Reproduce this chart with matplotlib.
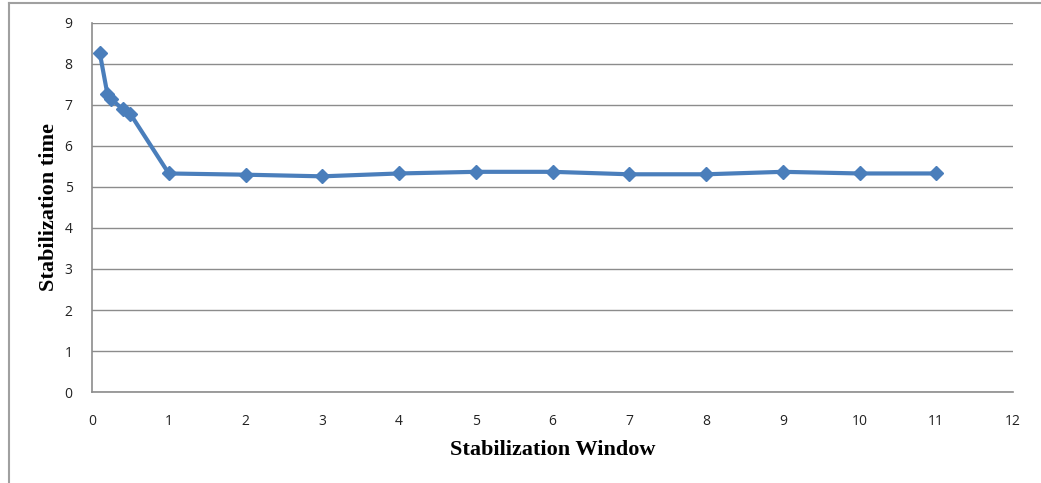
import matplotlib.pyplot as plt
from matplotlib.lines import Line2D

# stabilization window vs. time to stabilize
window = [0.1, 0.2, 0.25, 0.4, 0.5, 1, 2, 3, 4, 5, 6, 7, 8, 9, 10, 11]
stab_time = [8.28, 7.27, 7.14, 6.9, 6.78, 5.33, 5.3, 5.26, 5.33, 5.37, 5.37,
             5.31, 5.31, 5.37, 5.33, 5.33]

x_ticks = list(range(0, 13))
y_ticks = list(range(0, 10))

line_color = "#4A7EBB"
grid_color = "#8C8C8C"

fig = plt.figure(figsize=(10.41, 4.83), dpi=100)
ax = fig.add_axes([0.0884, 0.1884, 0.8847, 0.764])

ax.plot(window, stab_time, color=line_color, linewidth=3, marker="D",
        markersize=7, markerfacecolor=line_color, markeredgecolor=line_color,
        zorder=3)

ax.set_xlim(0, 12)
ax.set_ylim(0, 9)
ax.set_xticks(x_ticks)
ax.set_yticks(y_ticks)
ax.tick_params(length=0, labelsize=10, colors="#222222")
ax.tick_params(axis="x", pad=16)
ax.tick_params(axis="y", pad=14)
for lab in ax.get_xticklabels() + ax.get_yticklabels():
    lab.set_family("Open Sans")

ax.yaxis.grid(True, color=grid_color, linewidth=1)
ax.set_axisbelow(True)
for side in ("top", "right"):
    ax.spines[side].set_visible(False)
for side in ("left", "bottom"):
    ax.spines[side].set_color(grid_color)
    ax.spines[side].set_linewidth(1.2)

ax.set_xlabel("Stabilization Window", family="Liberation Serif",
              fontweight="bold", fontsize=16, labelpad=8)
ax.set_ylabel("Stabilization time", family="Liberation Serif",
              fontweight="bold", fontsize=16, labelpad=4)

# chart frame, only top and left edges show
fig.add_artist(Line2D([9 / 1041, 9 / 1041], [0, 1 - 3 / 483],
                      transform=fig.transFigure, color="#A0A0A0", lw=1.5))
fig.add_artist(Line2D([9 / 1041, 1], [1 - 3 / 483, 1 - 3 / 483],
                      transform=fig.transFigure, color="#A0A0A0", lw=1.5))

fig.savefig("out.png", dpi=100)
